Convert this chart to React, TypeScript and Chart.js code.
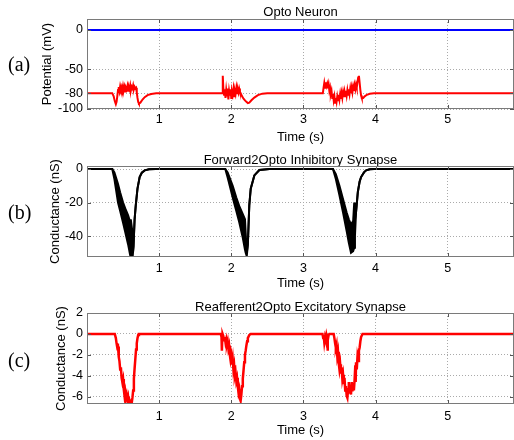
import React, { useEffect, useRef } from 'react';
import { Chart, registerables } from 'chart.js';

Chart.register(...registerables);

const FONT = "'Liberation Sans', Arial, sans-serif";

// ---------- tick labels ----------
const timeTicks = [1, 2, 3, 4, 5];
const potentialTicks = [-100, -80, -50, 0];
const inhibTicks = [-40, -20, 0];
const excitTicks = [-6, -4, -2, 0, 2];

// ---------- titles ----------
const titles = ['Opto Neuron', 'Forward2Opto Inhibitory Synapse', 'Reafferent2Opto Excitatory Synapse'];
const yTitles = ['Potential (mV)', 'Conductance (nS)', 'Conductance (nS)'];
const panelTags = ['(a)', '(b)', '(c)'];

// ---------- data: [time s, value] ----------
const reversalTrace: [number, number][] = [[0, 0], [5.92, 0]];

const potentialTrace: [number, number][] = [
  [0, -80], [0.35, -80], [0.37, -84], [0.385, -90], [0.4, -94], [0.41, -91], [0.42, -84], [0.43, -76],
  [0.44, -72], [0.45, -77], [0.46, -71], [0.47, -75], [0.48, -72], [0.49, -77], [0.5, -71], [0.51, -76],
  [0.52, -72], [0.53, -78], [0.54, -73], [0.55, -75], [0.56, -71], [0.57, -77], [0.58, -72], [0.59, -75],
  [0.6, -70], [0.61, -76], [0.62, -72], [0.63, -74], [0.64, -70], [0.65, -75], [0.66, -72], [0.67, -74],
  [0.68, -73], [0.69, -79], [0.7, -86], [0.71, -91], [0.72, -93], [0.74, -92], [0.77, -88], [0.8, -85],
  [0.84, -82.5], [0.89, -81], [0.96, -80.2], [1.05, -80],
  [1.875, -80], [1.88, -62], [1.885, -58], [1.89, -74], [1.9, -82], [1.91, -75], [1.92, -86], [1.93, -76],
  [1.94, -84], [1.95, -74], [1.96, -88], [1.97, -77], [1.98, -83], [1.99, -75], [2.0, -86], [2.01, -78],
  [2.02, -82], [2.03, -75], [2.04, -84], [2.05, -77], [2.06, -81], [2.07, -74], [2.08, -80], [2.09, -75],
  [2.1, -79], [2.11, -74], [2.12, -78], [2.13, -80], [2.15, -84], [2.17, -87], [2.19, -89], [2.21, -91],
  [2.23, -92.5], [2.25, -92], [2.28, -89], [2.32, -85.5], [2.37, -82.5], [2.43, -80.6], [2.5, -80],
  [3.27, -80], [3.28, -73], [3.29, -67], [3.3, -73], [3.31, -66], [3.32, -71], [3.33, -68], [3.34, -74],
  [3.35, -69], [3.36, -77], [3.37, -73], [3.38, -81], [3.39, -77], [3.4, -86], [3.41, -81], [3.42, -89],
  [3.43, -84], [3.44, -92], [3.45, -86], [3.46, -91], [3.47, -84], [3.48, -89], [3.49, -82], [3.5, -88],
  [3.51, -81], [3.52, -87], [3.53, -80], [3.54, -86], [3.55, -79], [3.56, -85], [3.57, -78], [3.58, -84],
  [3.59, -77], [3.6, -83], [3.61, -76], [3.62, -82], [3.63, -75], [3.64, -81], [3.65, -74], [3.66, -80],
  [3.67, -73], [3.68, -79], [3.69, -72], [3.7, -77], [3.71, -70], [3.72, -75], [3.73, -69], [3.74, -73],
  [3.75, -66], [3.76, -60], [3.77, -58], [3.78, -67], [3.79, -76], [3.8, -83], [3.81, -86], [3.83, -86],
  [3.85, -84], [3.88, -82], [3.92, -80.7], [3.98, -80], [5.92, -80],
];

// inhibitory conductance: [time, lower envelope, upper envelope]
const inhibTrace: [number, number, number][] = [
  [0, 0, 0],
  [0.35, 0, 0], [0.38, -6, -2], [0.43, -20, -9], [0.46, -25, -14], [0.5, -32, -20], [0.53, -37.6, -23.5],
  [0.57, -45, -27.6], [0.597, -51, -31.5], [0.607, -53, -30], [0.625, -56, -36], [0.637, -56, -50],
  [0.645, -46, -46], [0.66, -30, -30], [0.676, -21.7, -21.7], [0.7, -11.7, -11.7], [0.73, -4.8, -4.8],
  [0.76, -2.2, -2.2], [0.8, -0.8, -0.8], [0.86, -0.2, -0.2], [0.95, 0, 0],
  [1.917, 0, 0], [1.95, -5, -2], [2.02, -17, -10], [2.07, -25, -17], [2.11, -31.6, -22], [2.16, -41, -27],
  [2.19, -48, -30], [2.2, -50, -38], [2.215, -52, -50], [2.23, -45, -45], [2.25, -21.6, -21.6],
  [2.27, -11.7, -11.7], [2.32, -3.8, -3.8], [2.39, -0.6, -0.6], [2.53, 0, 0],
  [3.41, 0, 0], [3.45, -6, -3], [3.5, -15.7, -10], [3.55, -26, -18], [3.6, -37, -26], [3.63, -44, -30],
  [3.66, -50, -33], [3.69, -49, -31], [3.705, -47, -20], [3.715, -40, -30], [3.73, -25.7, -25.7],
  [3.755, -13.7, -13.7], [3.78, -7.5, -7.5], [3.8, -4.8, -4.8], [3.84, -2, -2], [3.87, -0.8, -0.8],
  [3.92, -0.2, -0.2], [3.98, 0, 0],
  [5.92, 0, 0],
];

const excitTrace: [number, number][] = [
  [0, 0], [0.385, 0], [0.4, -0.4], [0.41, -0.9], [0.42, -1.3], [0.43, -1.2], [0.44, -2.2], [0.45, -2.6],
  [0.46, -3.4], [0.47, -3.2], [0.48, -4.2], [0.49, -4.6], [0.5, -4.3], [0.51, -5.3], [0.52, -5.9], [0.53, -5.5],
  [0.54, -6.1], [0.55, -5.8], [0.56, -6.3], [0.57, -6.0], [0.58, -6.6], [0.59, -6.4], [0.6, -6.7], [0.61, -6.5],
  [0.62, -6.6], [0.63, -6.1], [0.64, -5.4], [0.65, -4.3], [0.66, -3.3], [0.67, -2.4], [0.68, -1.5], [0.69, -0.9],
  [0.7, -0.4], [0.71, -0.1], [0.72, 0],
  [1.855, 0], [1.865, -0.3], [1.87, -1.6], [1.875, -0.5], [1.88, 0], [1.89, -0.2], [1.9, -0.6], [1.91, -0.3],
  [1.92, -0.8], [1.93, -0.5], [1.94, -1.0], [1.95, -0.7], [1.96, -1.4], [1.97, -1.1], [1.98, -2.0], [1.99, -2.5],
  [2.0, -2.1], [2.01, -2.9], [2.02, -2.4], [2.03, -3.4], [2.04, -3.0], [2.05, -4.0], [2.06, -3.7], [2.07, -4.5],
  [2.08, -4.2], [2.09, -5.0], [2.1, -5.6], [2.11, -5.3], [2.12, -6.2], [2.13, -6.4], [2.14, -5.8], [2.15, -5.0],
  [2.16, -4.3], [2.17, -3.5], [2.18, -2.7], [2.19, -2.0], [2.2, -1.6], [2.21, -1.1], [2.22, -0.7], [2.23, -0.4],
  [2.25, -0.1], [2.27, 0],
  [3.265, 0], [3.275, -0.4], [3.28, -0.1], [3.29, -0.8], [3.3, -0.3], [3.31, -0.6], [3.32, -0.1], [3.33, -0.4],
  [3.335, -1.6], [3.34, -0.6], [3.35, -0.1], [3.36, 0], [3.42, 0], [3.43, -0.4], [3.44, -0.9], [3.45, -1.3],
  [3.46, -1.0], [3.47, -2.1], [3.48, -1.7], [3.49, -2.8], [3.5, -3.4], [3.51, -2.9], [3.52, -3.8], [3.53, -3.2],
  [3.54, -4.3], [3.55, -3.9], [3.56, -4.8], [3.57, -4.2], [3.58, -5.4], [3.59, -5.0], [3.6, -5.9], [3.61, -6.1],
  [3.62, -5.3], [3.63, -4.6], [3.64, -5.7], [3.65, -4.9], [3.66, -5.8], [3.67, -4.6], [3.68, -5.5], [3.69, -4.7],
  [3.7, -5.4], [3.71, -4.4], [3.72, -3.0], [3.725, -4.6], [3.73, -2.7], [3.74, -3.4], [3.75, -2.2], [3.76, -2.6],
  [3.77, -1.6], [3.78, -1.3], [3.79, -0.7], [3.8, -0.3], [3.82, 0], [5.92, 0],
];

const toPts = (arr: [number, number][]) => arr.map(([x, y]) => ({ x, y }));

const boxPlugin = {
  id: 'matlabBox',
  afterDatasetsDraw(chart: any) {
    const { ctx, chartArea: a, scales } = chart;
    ctx.save();
    const l = Math.round(a.left), t = Math.round(a.top), r = Math.round(a.right), b = Math.round(a.bottom);
    // inward tick marks
    ctx.strokeStyle = '#555';
    ctx.lineWidth = 1;
    ctx.beginPath();
    scales.x.ticks.forEach((tk: any) => {
      const px = Math.round(scales.x.getPixelForValue(tk.value)) + 0.5;
      ctx.moveTo(px, b); ctx.lineTo(px, b - 4);
      ctx.moveTo(px, t); ctx.lineTo(px, t + 4);
    });
    scales.y.ticks.forEach((tk: any) => {
      const py = Math.round(scales.y.getPixelForValue(tk.value)) + 0.5;
      ctx.moveTo(l, py); ctx.lineTo(l + 4, py);
      ctx.moveTo(r, py); ctx.lineTo(r - 4, py);
    });
    ctx.stroke();
    ctx.strokeStyle = '#7a7a7a';
    ctx.strokeRect(l + 0.5, t + 0.5, r - l - 1, b - t - 1);
    ctx.restore();
  },
};

type PanelSpec = {
  height: number;
  areaTop: number;
  areaBottom: number;
  titleCenter: number;
  yTitleCenter: number;
  xTickPad: number;
  yMin: number;
  yMax: number;
  yTicks: number[];
  title: string;
  yTitle: string;
  datasets: any[];
};

function makeConfig(p: PanelSpec): any {
  const titleLH = 0.9 * 13;
  const titlePadTop = p.titleCenter - titleLH / 2;
  const titlePadBottom = p.areaTop - titlePadTop - titleLH;
  const yTitleLH = 1.2 * 13;
  return {
    type: 'line',
    data: { datasets: p.datasets },
    options: {
      animation: false,
      responsive: false,
      devicePixelRatio: 1,
      events: [],
      layout: { padding: { left: 0, right: 0, top: 0, bottom: 0 } },
      elements: { point: { radius: 0 }, line: { tension: 0 } },
      plugins: {
        legend: { display: false },
        tooltip: { enabled: false },
        title: {
          display: true,
          text: p.title,
          fullSize: false,
          color: '#000',
          font: { family: FONT, size: 13, weight: 'normal', lineHeight: 0.9 },
          padding: { top: titlePadTop, bottom: titlePadBottom },
        },
      },
      scales: {
        x: {
          type: 'linear',
          min: 0,
          max: 5.92,
          afterBuildTicks: (s: any) => {
            s.ticks = timeTicks.map((v) => ({ value: v }));
          },
          afterFit: (s: any) => {
            s.height = p.height - p.areaBottom;
          },
          grid: { color: '#aaaaaa', drawTicks: false, lineWidth: 1 },
          border: { display: false, dash: [1, 2] },
          ticks: {
            color: '#000',
            padding: p.xTickPad,
            maxRotation: 0,
            autoSkip: false,
            font: { family: FONT, size: 12.5 },
          },
          title: {
            display: true,
            text: 'Time (s)',
            color: '#000',
            font: { family: FONT, size: 13, lineHeight: 1.2 },
            padding: { top: 0, bottom: 1.8 },
          },
        },
        y: {
          type: 'linear',
          min: p.yMin,
          max: p.yMax,
          afterBuildTicks: (s: any) => {
            s.ticks = p.yTicks.map((v) => ({ value: v }));
          },
          afterFit: (s: any) => {
            s.width = 87;
          },
          grid: { color: '#aaaaaa', drawTicks: false, lineWidth: 1 },
          border: { display: false, dash: [1, 2] },
          ticks: {
            color: '#000',
            padding: 4,
            autoSkip: false,
            font: { family: FONT, size: 12.5 },
          },
          title: {
            display: true,
            text: p.yTitle,
            color: '#000',
            font: { family: FONT, size: 13, lineHeight: 1.2 },
            padding: { top: p.yTitleCenter - yTitleLH / 2, bottom: 0 },
          },
        },
      },
    },
    plugins: [boxPlugin],
  };
}

const panelTops = [0, 147, 293];
const panelHeights = [147, 146, 147];

export default function App() {
  const r1 = useRef<HTMLCanvasElement>(null);
  const r2 = useRef<HTMLCanvasElement>(null);
  const r3 = useRef<HTMLCanvasElement>(null);

  useEffect(() => {
    const inhLow = inhibTrace.map(([x, lo]) => ({ x, y: lo }));
    const inhHigh = inhibTrace.map(([x, , hi]) => ({ x, y: hi }));

    const specs: PanelSpec[] = [
      {
        height: panelHeights[0], areaTop: 19, areaBottom: 109, titleCenter: 12, yTitleCenter: 47.5, xTickPad: 3.5,
        yMin: -100, yMax: 13.9, yTicks: potentialTicks, title: titles[0], yTitle: yTitles[0],
        datasets: [
          { data: toPts(reversalTrace), borderColor: '#0000ff', borderWidth: 2, fill: false },
          { data: toPts(potentialTrace), borderColor: '#ff0000', borderWidth: 2, fill: false },
        ],
      },
      {
        height: panelHeights[1], areaTop: 19, areaBottom: 110, titleCenter: 13, yTitleCenter: 55.5, xTickPad: 4.5,
        yMin: -52.5, yMax: 1.8, yTicks: inhibTicks, title: titles[1], yTitle: yTitles[1],
        datasets: [
          { data: inhLow, borderColor: '#000', borderWidth: 2, fill: false },
          { data: inhHigh, borderColor: '#000', borderWidth: 2, fill: '-1', backgroundColor: '#000' },
        ],
      },
      {
        height: panelHeights[2], areaTop: 20, areaBottom: 111, titleCenter: 14, yTitleCenter: 61, xTickPad: 5,
        yMin: -6.7, yMax: 2, yTicks: excitTicks, title: titles[2], yTitle: yTitles[2],
        datasets: [{ data: toPts(excitTrace), borderColor: '#ff0000', borderWidth: 2.5, fill: false }],
      },
    ];
    const refs = [r1, r2, r3];
    const charts = specs.map((s, i) => new Chart(refs[i].current as HTMLCanvasElement, makeConfig(s)));
    return () => charts.forEach((c) => c.destroy());
  }, []);

  const tagCenters = [64, 212, 360];
  const refs = [r1, r2, r3];

  return (
    <div style={{ position: 'fixed', left: 0, top: 0, width: 514, height: 440, background: '#fff', overflow: 'hidden' }}>
      {refs.map((r, i) => (
        <canvas
          key={i}
          ref={r}
          width={514}
          height={panelHeights[i]}
          style={{ position: 'absolute', left: 0, top: panelTops[i], width: 514, height: panelHeights[i] }}
        />
      ))}
      {panelTags.map((t, i) => (
        <div
          key={t}
          style={{
            position: 'absolute',
            left: 8,
            top: tagCenters[i] - 11,
            height: 22,
            lineHeight: '22px',
            fontFamily: "'Liberation Serif', 'Times New Roman', serif",
            fontSize: 20,
            color: '#000',
          }}
        >
          {t}
        </div>
      ))}
    </div>
  );
}
